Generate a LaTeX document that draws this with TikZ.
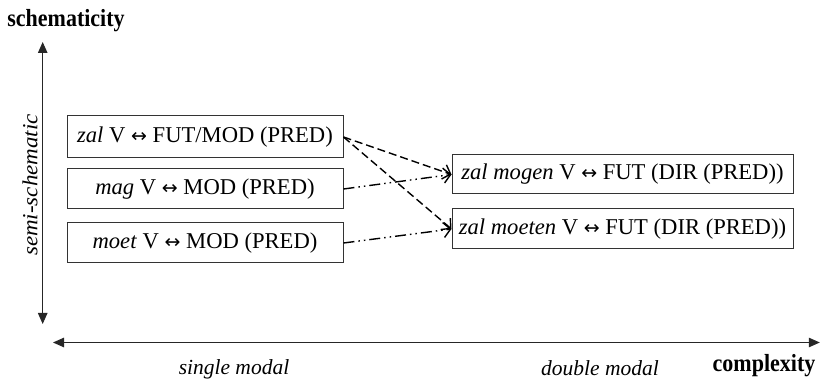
\documentclass[tikz,border=0pt]{standalone}
\usepackage{graphicx}
\usepackage{fontspec}
\setmainfont{Liberation Serif}
\newfontfamily\arrowfont{DejaVu Sans}
\newcommand\lrarr{{\arrowfont\fontsize{19}{22}\selectfont ↔}}
\usetikzlibrary{arrows.meta}
\begin{document}
\begin{tikzpicture}[x=1pt,y=-1pt,
  box/.style={draw=black!80, line width=1pt, inner sep=0pt, align=center,
    font=\fontsize{22.6}{27}\selectfont},
  axis/.style={draw=black!85, line width=1pt, {Triangle[length=11pt,width=9.5pt]}-{Triangle[length=11pt,width=9.5pt]}},
  axislabel/.style={font=\fontsize{22}{26}\selectfont\bfseries, anchor=base, inner sep=0pt},
  poslabel/.style={font=\fontsize{21.5}{26}\selectfont\itshape, anchor=base, inner sep=0pt},
  conn/.style={line width=1.4pt, -{Straight Barb[length=7pt,width=15pt,line width=1.4pt]}},
  dashconn/.style={conn, dash pattern=on 8pt off 4pt},
  dotconn/.style={conn, dash pattern=on 11pt off 4pt on 1.5pt off 4pt on 1.5pt off 4pt}
]
\useasboundingbox (0,0) rectangle (820,382);
% axes
\coordinate (vtop) at (42.7,42);
\coordinate (vbot) at (42.7,324);
\coordinate (hleft) at (53,342.5);
\coordinate (hright) at (819.8,342.5);
\draw[axis] (vtop) -- (vbot);
\draw[axis] (hleft) -- (hright);
% axis labels
\node[axislabel] (lsch) at (66,27) {\scalebox{1}[1.12]{schematicity}};
\node[axislabel] (lcom) at (764,371) {\scalebox{1}[1.12]{complexity}};
\node[poslabel, rotate=90] (lsemi) at (37.5,185) {\scalebox{1.07}[1]{semi-schematic}};
\node[poslabel] (lsingle) at (234,374) {single modal};
\node[poslabel] (ldouble) at (600,375) {double modal};
% boxes
\node[box, minimum width=276pt, minimum height=42pt] (b1) at (205,137) {\textit{zal} V \lrarr{} FUT/MOD (PRED)};
\node[box, minimum width=276pt, minimum height=40pt] (b2) at (205,189) {\textit{mag} V \lrarr{} MOD (PRED)};
\node[box, minimum width=276pt, minimum height=40pt] (b3) at (205,243) {\textit{moet} V \lrarr{} MOD (PRED)};
\node[box, minimum width=341pt, minimum height=39pt] (b4) at (622.5,174.5) {\textit{zal mogen} V \lrarr{} FUT (DIR (PRED))};
\node[box, minimum width=341pt, minimum height=40pt] (b5) at (622.5,229) {\textit{zal moeten} V \lrarr{} FUT (DIR (PRED))};
% connectors
\draw[dashconn] (b1.east) -- (b4.west);
\draw[dashconn] (b1.east) -- (b5.west);
\draw[dotconn] (b2.east) -- (b4.west);
\draw[dotconn] (b3.east) -- (b5.west);
\end{tikzpicture}
\end{document}
